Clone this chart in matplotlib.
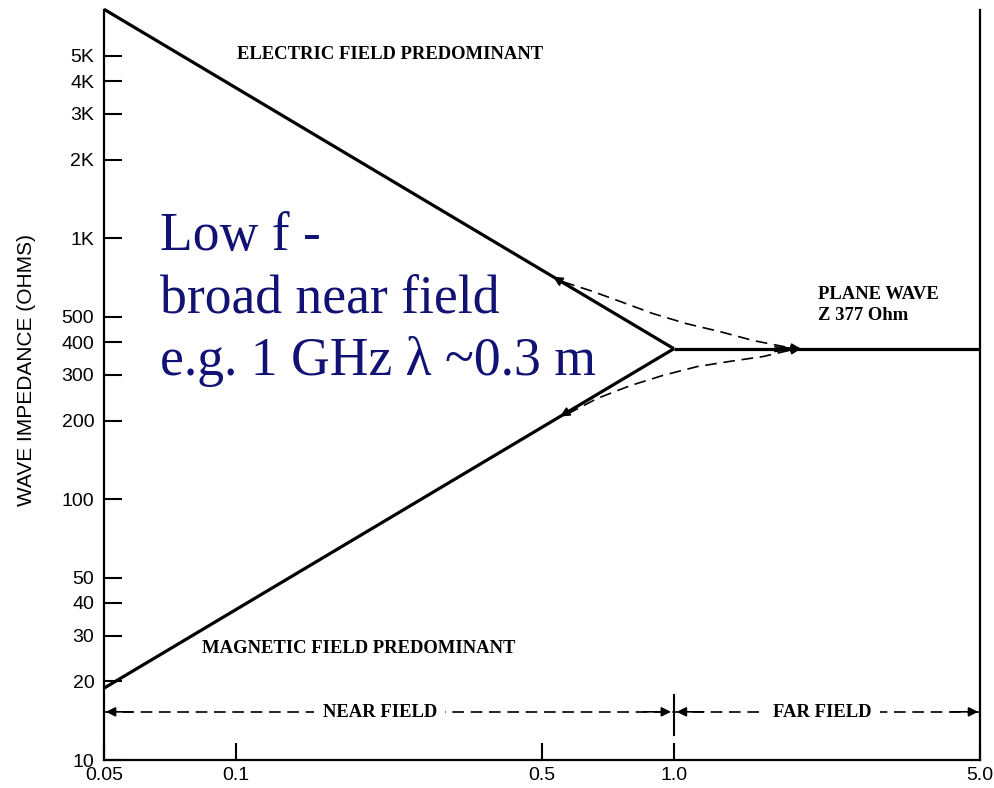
import matplotlib
matplotlib.use('Agg')
import matplotlib.pyplot as plt

# distance in units of lambda/2pi, impedance in ohms
x_near = [0.05, 1.0]
z_electric = [7540, 377]
z_magnetic = [18.85, 377]
x_far = [1.0, 5.0]
z_plane = [377, 377]

# transition curves (dashed) between the near field asymptotes and the plane wave
e_trans_x = [0.559, 0.644, 0.754, 0.896, 1.07, 1.27, 1.52, 1.84]
e_trans_z = [680, 630, 572, 514, 470, 439, 405, 380]
h_trans_x = [0.572, 0.668, 0.794, 0.945, 1.13, 1.34, 1.60, 1.84]
h_trans_z = [212, 243, 272, 298, 322, 337, 352, 372]

# near field / far field span markers
region_z = 15.3
region_edges = [0.05, 1.0, 5.0]
boundary_z = [12.5, 17.7]

yticks = [10, 20, 30, 40, 50, 100, 200, 300, 400, 500, 1000, 2000, 3000, 4000, 5000]
ytick_labels = ["10", "20", "30", "40", "50", "100", "200", "300", "400", "500",
                "1K", "2K", "3K", "4K", "5K"]
xticks = [0.05, 0.1, 0.5, 1.0, 5.0]
xtick_labels = ["0.05", "0.1", "0.5", "1.0", "5.0"]

serif = "Liberation Serif"
sans = "Liberation Sans"

fig = plt.figure(figsize=(9.95, 7.88), dpi=100)
ax = fig.add_axes([0.1045, 0.0355, 0.8805, 0.952])
ax.set_xscale('log')
ax.set_yscale('log')
ax.set_xlim(0.05, 5.0)
ax.set_ylim(10, 7500)

# asymptotes and plane wave line
ax.plot(x_near, z_electric, color='black', lw=2.3, clip_on=False, solid_capstyle='butt')
ax.plot(x_near, z_magnetic, color='black', lw=2.3, clip_on=False, solid_capstyle='butt')
ax.plot(x_far, z_plane, color='black', lw=2.3, solid_capstyle='butt')

# dashed transition curves
dash = (0, (7, 4))
ax.plot(e_trans_x, e_trans_z, color='black', lw=1.2, linestyle=dash)
ax.plot(h_trans_x, h_trans_z, color='black', lw=1.2, linestyle=dash)

head = dict(arrowstyle='-|>', color='black', lw=1.2, mutation_scale=14,
            shrinkA=0, shrinkB=0)
ax.annotate('', xy=(0.53, 377 / 0.53), xytext=(0.58, 377 / 0.58), arrowprops=head)
ax.annotate('', xy=(0.55, 377 * 0.55), xytext=(0.60, 377 * 0.60), arrowprops=head)
ax.annotate('', xy=(1.95, 377), xytext=(1.70, 383), arrowprops=head)
ax.annotate('', xy=(1.95, 377), xytext=(1.70, 368), arrowprops=head)

# near / far field spans
ax.plot(region_edges[:2], [region_z] * 2, color='black', lw=1.2, linestyle=dash)
ax.plot(region_edges[1:], [region_z] * 2, color='black', lw=1.2, linestyle=dash)
ax.plot([region_edges[1]] * 2, boundary_z, color='black', lw=1.5)
for tip, tail in [(0.0505, 0.058), (0.985, 0.85), (1.015, 1.17), (4.95, 4.3)]:
    ax.annotate('', xy=(tip, region_z), xytext=(tail, region_z), arrowprops=head)

lbl = dict(fontfamily=serif, fontsize=13.4, fontweight='bold', transform=ax.transAxes)
ax.text(0.315, 0.063, "NEAR FIELD", ha='center', va='center',
        bbox=dict(facecolor='white', edgecolor='none', pad=6), **lbl)
ax.text(0.820, 0.063, "FAR FIELD", ha='center', va='center',
        bbox=dict(facecolor='white', edgecolor='none', pad=6), **lbl)
ax.text(0.152, 0.94, "ELECTRIC FIELD PREDOMINANT", ha='left', va='center', **lbl)
ax.text(0.112, 0.149, "MAGNETIC FIELD PREDOMINANT", ha='left', va='center', **lbl)
ax.text(0.815, 0.62, "PLANE WAVE", ha='left', va='center', **lbl)
ax.text(0.815, 0.592, "Z 377 Ohm", ha='left', va='center', **lbl)

blue = '#121275'
for y, line in [(0.68, "Low f -"), (0.597, "broad near field"),
                (0.513, "e.g. 1 GHz \u03bb ~0.3 m")]:
    ax.text(0.064, y, line, transform=ax.transAxes, ha='left', va='baseline',
            fontfamily=serif, fontsize=38.6, color=blue)

# axes styling
ax.spines['top'].set_visible(False)
for s in ['left', 'bottom', 'right']:
    ax.spines[s].set_linewidth(1.6)

ax.set_yticks(yticks)
ax.set_yticklabels(ytick_labels, fontfamily=sans, fontsize=14)
ax.set_xticks(xticks)
ax.set_xticklabels(xtick_labels, fontfamily=sans, fontsize=14)
ax.minorticks_off()
ax.tick_params(axis='y', direction='in', length=13, width=1.5, pad=7)
ax.tick_params(axis='x', direction='in', length=12, width=1.5, pad=5)

ax.set_ylabel("WAVE IMPEDANCE (OHMS)", fontfamily=sans, fontsize=15)
ax.yaxis.set_label_coords(-0.078, 0.52)

fig.savefig("out.png", dpi=100)
